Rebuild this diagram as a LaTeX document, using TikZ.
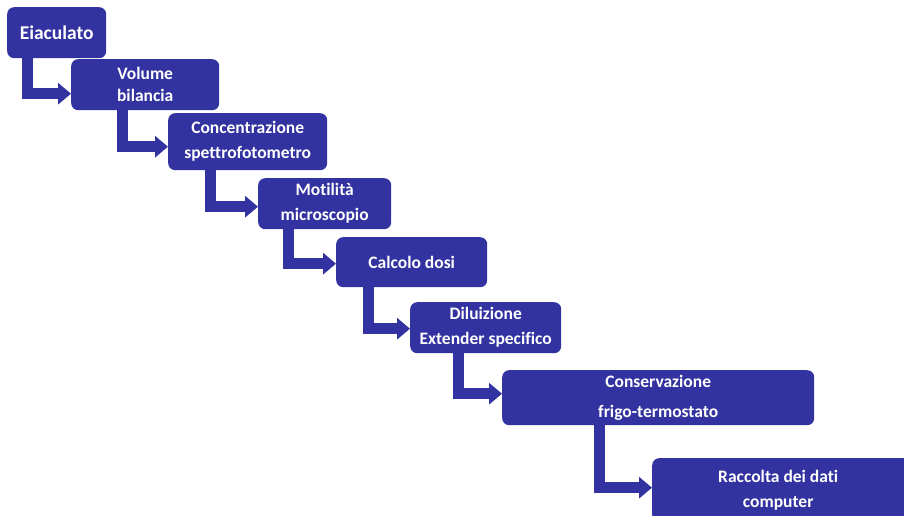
\documentclass[tikz,border=0pt]{standalone}
\usepackage{fontspec}
\setmainfont{Carlito}[Ligatures=CommonOff]
\usetikzlibrary{arrows.meta}
\definecolor{stepblue}{RGB}{50,50,160}
\tikzset{
  stepbox/.style={fill=stepblue, draw=none, rounded corners=7pt, anchor=north west,
    inner sep=0pt, align=center, text=white,
    font=\bfseries\fontsize{17.5}{25}\selectfont},
  flow/.style={draw=stepblue, line width=11pt, line join=miter,
    -{Triangle[length=13pt,width=21pt]}},
}
\begin{document}
\begin{tikzpicture}[x=1pt,y=-1pt]
\useasboundingbox (0,0) rectangle (904,516);

% process steps, top left to bottom right
\node[stepbox, minimum width=99pt, minimum height=51pt, font=\bfseries\fontsize{19.5}{25}\selectfont] (s1) at (7,7) {Eiaculato};
\node[stepbox, minimum width=148pt, minimum height=51pt, font=\bfseries\fontsize{17.5}{22}\selectfont] (s2) at (71,59) {Volume\\bilancia};
\node[stepbox, minimum width=159pt, minimum height=57pt] (s3) at (168,113) {Concentrazione\\spettrofotometro};
\node[stepbox, minimum width=133pt, minimum height=51pt] (s4) at (258,178) {Motilità\\microscopio};
\node[stepbox, minimum width=151pt, minimum height=50pt] (s5) at (336,237) {Calcolo dosi};
\node[stepbox, minimum width=151pt, minimum height=51pt] (s6) at (410,302) {Diluizione\\Extender specifico};
\node[stepbox, minimum width=312pt, minimum height=55pt, font=\bfseries\fontsize{17.5}{30}\selectfont] (s7) at (502,370) {Conservazione\\frigo-termostato};
\node[stepbox, minimum width=252pt, minimum height=64pt] (s8) at (652,458) {Raccolta dei dati\\computer};
% the last box runs off the page on the right
\fill[stepblue] ([xshift=-10pt]s8.north east) rectangle ([xshift=20pt]s8.south east);

% elbow arrows between consecutive steps
\draw[flow] ([xshift=20pt]s1.south west) |- ([yshift=-9pt]s2.west);
\draw[flow] ([xshift=51pt]s2.south west) |- ([yshift=-5pt]s3.west);
\draw[flow] ([xshift=42.5pt]s3.south west) |- ([yshift=-3pt]s4.west);
\draw[flow] ([xshift=30pt]s4.south west) |- ([yshift=-1.5pt]s5.west);
\draw[flow] ([xshift=32.5pt]s5.south west) |- ([yshift=-1pt]s6.west);
\draw[flow] ([xshift=48pt]s6.south west) |- ([yshift=4pt]s7.west);
\draw[flow] ([xshift=97pt]s7.south west) |- ([yshift=2.5pt]s8.west);
\end{tikzpicture}
\end{document}
